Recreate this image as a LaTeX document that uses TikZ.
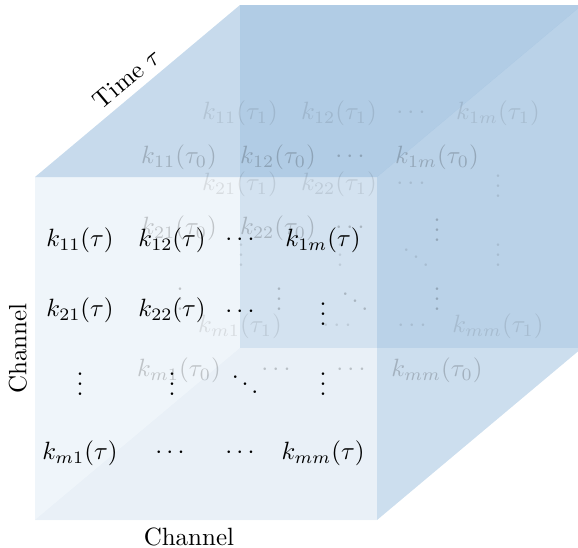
\documentclass[tikz,border=0pt]{standalone}
\usepackage{amsmath}
\usetikzlibrary{calc}
\definecolor{CubeBlue}{HTML}{4082BF}
\tikzset{
  % Cube face: translucent blue
  face/.style={fill=CubeBlue, fill opacity=#1},
  % Matrix entry
  entry/.style={inner sep=1pt},
  % Faded layer behind the front slice
  layer/.style={text opacity=#1},
  % Axis label
  axis/.style={inner sep=3pt}
}

\begin{document}
\begin{tikzpicture}[x=0.4pt, y=-0.4pt]
  \path[use as bounding box, clip] (0,0) rectangle (578,547);

  % Cube corners (front / back)
  \coordinate (fbl) at (35,520);
  \coordinate (fbr) at (377,520);
  \coordinate (ftr) at (377,177);
  \coordinate (ftl) at (35,177);
  \coordinate (bbl) at ($(fbl)+(205,-172)$);
  \coordinate (bbr) at ($(fbr)+(205,-172)$);
  \coordinate (btr) at ($(ftr)+(205,-172)$);
  \coordinate (btl) at ($(ftl)+(205,-172)$);

  % Faces
  \fill[face=0.19] (bbl) -- (bbr) -- (btr) -- (btl) -- cycle; % back
  \fill[face=0.03] (fbl) -- (ftl) -- (btl) -- (bbl) -- cycle; % left
  \fill[face=0.07] (fbl) -- (fbr) -- (bbr) -- (bbl) -- cycle; % bottom
  \fill[face=0.27] (ftl) -- (ftr) -- (btr) -- (btl) -- cycle; % top
  \fill[face=0.21] (fbr) -- (ftr) -- (btr) -- (bbr) -- cycle; % right
  \fill[face=0.05] (fbl) -- (fbr) -- (ftr) -- (ftl) -- cycle; % front

  % Earlier slices tau_1, tau_0
  \foreach \t/\dx/\dy/\op in {1/61/-44/0.1, 0/0/0/0.2} {
    \begin{scope}[shift={(\dx,\dy)}, layer=\op]
      \node[entry] (s\t-11) at (179,157) {$k_{11}(\tau_\t)$};
      \node[entry] (s\t-12) at (278,157) {$k_{12}(\tau_\t)$};
      \node[entry] (s\t-13) at (352,157) {$\cdots$};
      \node[entry] (s\t-14) at (437,157) {$k_{1m}(\tau_\t)$};
      \node[entry] (s\t-21) at (179,228) {$k_{21}(\tau_\t)$};
      \node[entry] (s\t-22) at (278,228) {$k_{22}(\tau_\t)$};
      \node[entry] (s\t-23) at (352,228) {$\cdots$};
      \node[entry] (s\t-24) at (437,223) {$\vdots$};
      \node[entry] (s\t-31) at (180,292) {$\vdots$};
      \node[entry] (s\t-32) at (279,292) {$\vdots$};
      \node[entry] (s\t-33) at (355,294) {$\ddots$};
      \node[entry] (s\t-34) at (437,292) {$\vdots$};
      \node[entry] (s\t-41) at (179,370) {$k_{m1}(\tau_\t)$};
      \node[entry] (s\t-42) at (278,370) {$\cdots$};
      \node[entry] (s\t-43) at (353,370) {$\cdots$};
      \node[entry] (s\t-44) at (437,370) {$k_{mm}(\tau_\t)$};
    \end{scope}
  }

  % Front slice
  \node[entry] (f11) at (80,240)  {$k_{11}(\tau)$};
  \node[entry] (f12) at (172,240) {$k_{12}(\tau)$};
  \node[entry] (f13) at (242,240) {$\cdots$};
  \node[entry] (f14) at (323,240) {$k_{1m}(\tau)$};
  \node[entry] (f21) at (80,310)  {$k_{21}(\tau)$};
  \node[entry] (f22) at (172,310) {$k_{22}(\tau)$};
  \node[entry] (f23) at (242,312) {$\cdots$};
  \node[entry] (f24) at (323,307) {$\vdots$};
  \node[entry] (f31) at (80,377)  {$\vdots$};
  \node[entry] (f32) at (172,377) {$\vdots$};
  \node[entry] (f33) at (245,377) {$\ddots$};
  \node[entry] (f34) at (323,377) {$\vdots$};
  \node[entry] (f41) at (80,453)  {$k_{m1}(\tau)$};
  \node[entry] (f42) at (172,453) {$\cdots$};
  \node[entry] (f43) at (242,453) {$\cdots$};
  \node[entry] (f44) at (323,453) {$k_{mm}(\tau)$};

  % Axis labels
  \path (ftl) -- node[axis, midway, sloped, above] (time) {Time $\tau$} (btl);
  \path (fbl) -- node[axis, midway, sloped, above] (rows) {Channel} (ftl);
  \path (fbl) -- node[axis, pos=0.45, below] (cols) {Channel} (fbr);
\end{tikzpicture}
\end{document}
